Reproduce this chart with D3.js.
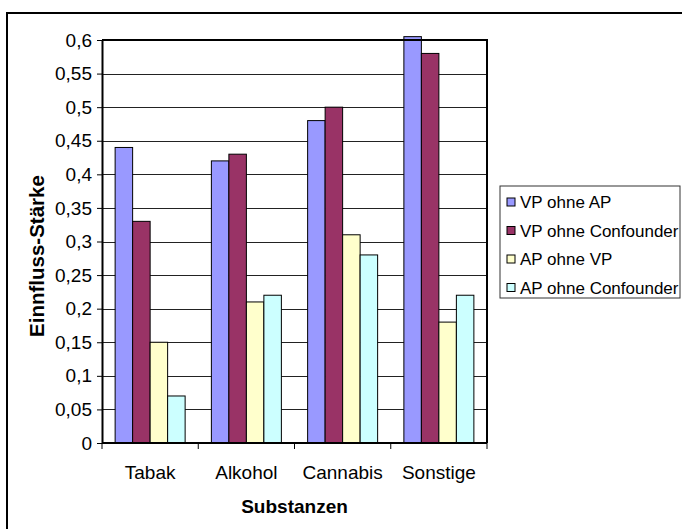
<!DOCTYPE html>
<html>
<head>
<meta charset="utf-8">
<script src="https://cdn.jsdelivr.net/npm/d3@7"></script>
<style>
  html, body { margin: 0; padding: 0; background: #fff; }
  svg { display: block; font-family: "Liberation Sans", Arial, sans-serif; }
</style>
</head>
<body>
<script>
// Substance categories and the four effect-strength series
const categories = ["Tabak", "Alkohol", "Cannabis", "Sonstige"];
const seriesNames = ["VP ohne AP", "VP ohne Confounder", "AP ohne VP", "AP ohne Confounder"];
const vpOhneAP = [0.44, 0.42, 0.48, 0.605];
const vpOhneConfounder = [0.33, 0.43, 0.50, 0.58];
const apOhneVP = [0.15, 0.21, 0.31, 0.18];
const apOhneConfounder = [0.07, 0.22, 0.28, 0.22];
const seriesColors = ["#9999FF", "#993366", "#FFFFCC", "#CCFFFF"];
const yTicks = [0, 0.05, 0.1, 0.15, 0.2, 0.25, 0.3, 0.35, 0.4, 0.45, 0.5, 0.55, 0.6];
const yTickLabels = ["0", "0,05", "0,1", "0,15", "0,2", "0,25", "0,3", "0,35", "0,4", "0,45", "0,5", "0,55", "0,6"];

const seriesValues = [vpOhneAP, vpOhneConfounder, apOhneVP, apOhneConfounder];
const rows = categories.map((c, i) => ({
  category: c,
  values: seriesNames.map((s, j) => ({ series: s, value: seriesValues[j][i], color: seriesColors[j] }))
}));

const W = 682, H = 529;
const plot = { left: 102, right: 487, top: 40, bottom: 443 };

const svg = d3.select("body").append("svg").attr("width", W).attr("height", H);
svg.append("rect").attr("width", W).attr("height", H).attr("fill", "#fff");

// Chart area frame (extends past the page edge)
svg.append("rect").attr("x", 7).attr("y", 13).attr("width", 720).attr("height", 560)
  .attr("fill", "none").attr("stroke", "#000").attr("stroke-width", 2);

const y = d3.scaleLinear().domain([0, 0.6]).range([plot.bottom, plot.top]);
const x0 = d3.scaleBand().domain(categories).range([plot.left, plot.right]).padding(0);
const x1 = d3.scaleBand().domain(seriesNames).range([0, x0.bandwidth()])
  .paddingInner(0).paddingOuter(0.75);

// Horizontal gridlines
svg.append("g").selectAll("line").data(yTicks.slice(1)).join("line")
  .attr("x1", plot.left).attr("x2", plot.right)
  .attr("y1", d => Math.round(y(d)) + 0.5).attr("y2", d => Math.round(y(d)) + 0.5)
  .attr("stroke", "#222").attr("stroke-width", 1);

// Bars
const groups = svg.append("g").selectAll("g").data(rows).join("g")
  .attr("transform", d => `translate(${x0(d.category)},0)`);
groups.selectAll("rect").data(d => d.values).join("rect")
  .attr("x", d => x1(d.series))
  .attr("y", d => y(d.value))
  .attr("width", x1.bandwidth())
  .attr("height", d => y(0) - y(d.value))
  .attr("fill", d => d.color)
  .attr("stroke", "#000").attr("stroke-width", 1);

// Plot area border: top and right edges
svg.append("path")
  .attr("d", `M${plot.left},${plot.top}H${plot.right}V${plot.bottom}`)
  .attr("fill", "none").attr("stroke", "#000").attr("stroke-width", 2);

const fmt = v => yTickLabels[yTicks.indexOf(v)];

// Y axis
const yAxis = svg.append("g").attr("transform", `translate(${plot.left},0)`)
  .call(d3.axisLeft(y).tickValues(yTicks).tickFormat(fmt).tickSizeInner(5).tickSizeOuter(0).tickPadding(5));
yAxis.select(".domain").attr("stroke", "#000").attr("stroke-width", 2);
yAxis.selectAll(".tick line").attr("stroke", "#000");
yAxis.selectAll("text").attr("font-size", 19).attr("fill", "#000")
  .attr("font-family", "Liberation Sans, Arial, sans-serif");

// X axis with ticks at category boundaries
const xAxis = svg.append("g").attr("transform", `translate(0,${plot.bottom})`);
xAxis.append("line").attr("x1", plot.left).attr("x2", plot.right)
  .attr("stroke", "#000").attr("stroke-width", 2);
const boundaries = categories.map(c => x0(c)).concat([plot.right]);
xAxis.selectAll(".bt").data(boundaries).join("line").attr("class", "bt")
  .attr("x1", d => d).attr("x2", d => d).attr("y1", 0).attr("y2", 6)
  .attr("stroke", "#000").attr("stroke-width", 1);
xAxis.selectAll("text").data(categories).join("text")
  .attr("x", d => x0(d) + x0.bandwidth() / 2).attr("y", 36)
  .attr("text-anchor", "middle").attr("font-size", 19).attr("fill", "#000")
  .text(d => d);

// Axis titles
svg.append("text").attr("x", (plot.left + plot.right) / 2).attr("y", 513)
  .attr("text-anchor", "middle").attr("font-size", 19).attr("font-weight", "bold")
  .text("Substanzen");
svg.append("text").attr("transform", "translate(44,256) rotate(-90)")
  .attr("text-anchor", "middle").attr("font-size", 20.5).attr("font-weight", "bold")
  .text("Einnfluss-Stärke");

// Legend
const legend = svg.append("g").attr("transform", "translate(500,186)");
legend.append("rect").attr("width", 180).attr("height", 112)
  .attr("fill", "#fff").attr("stroke", "#333").attr("stroke-width", 1);
const items = legend.selectAll("g").data(seriesNames).join("g")
  .attr("transform", (d, i) => `translate(7,${16 + i * 28.5})`);
items.append("rect").attr("x", 0).attr("y", -4).attr("width", 8).attr("height", 8)
  .attr("fill", (d, i) => seriesColors[i]).attr("stroke", "#000").attr("stroke-width", 1);
items.append("text").attr("x", 13).attr("y", 6).attr("font-size", 17).attr("fill", "#000")
  .text(d => d);
</script>
</body>
</html>
